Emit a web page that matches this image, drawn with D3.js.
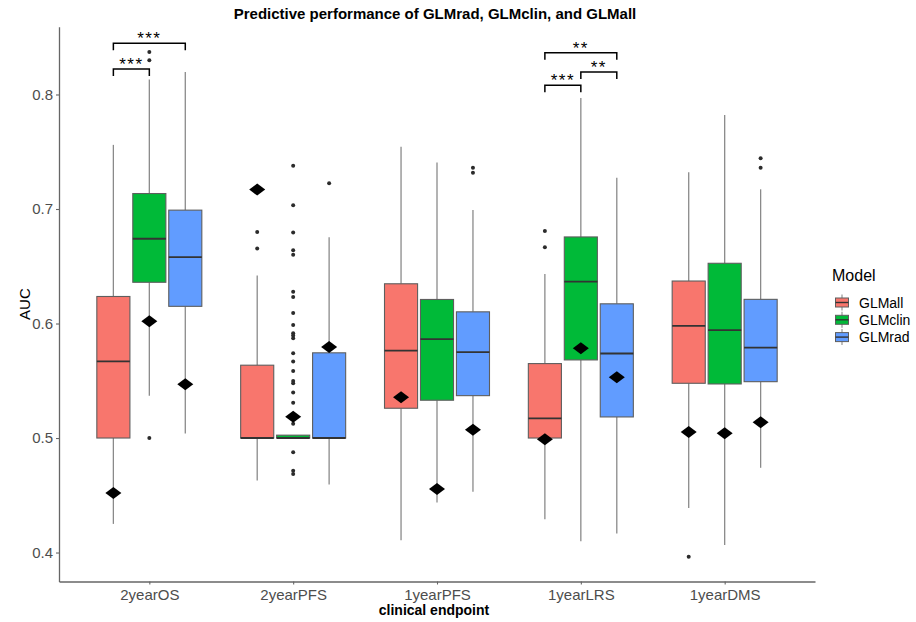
<!DOCTYPE html>
<html>
<head>
<meta charset="utf-8">
<script src="https://cdn.jsdelivr.net/npm/d3@7"></script>
<style>
  body { margin: 0; background: #fff; }
  svg { display: block; font-family: "Liberation Sans", Arial, sans-serif; }
</style>
</head>
<body>
<svg id="chart" width="916" height="622"></svg>
<script>
// ---- data ---------------------------------------------------------------
const endpoints = ["2yearOS", "2yearPFS", "1yearPFS", "1yearLRS", "1yearDMS"];
const models = ["GLMall", "GLMclin", "GLMrad"];
const modelColors = ["#F8766D", "#00BA38", "#619CFF"];
const yTicks = [0.4, 0.5, 0.6, 0.7, 0.8];

// box summaries per endpoint: [lower whisker, Q1, median, Q3, upper whisker]
const allBoxes = [
  [0.425, 0.500, 0.567, 0.6236, 0.756],
  [0.463, 0.500, 0.500, 0.5636, 0.642],
  [0.4108, 0.526, 0.5764, 0.6347, 0.7543],
  [0.4291, 0.500, 0.5172, 0.565, 0.6432],
  [0.4389, 0.5478, 0.598, 0.6371, 0.732]
];
const clinBoxes = [
  [0.537, 0.636, 0.674, 0.7135, 0.813],
  [0.500, 0.500, 0.500, 0.5025, 0.5025],
  [0.4437, 0.533, 0.5863, 0.621, 0.7406],
  [0.4099, 0.5682, 0.6365, 0.6756, 0.7969],
  [0.4066, 0.5472, 0.5943, 0.6526, 0.7821]
];
const radBoxes = [
  [0.504, 0.615, 0.658, 0.699, 0.8196],
  [0.4595, 0.500, 0.500, 0.5744, 0.6753],
  [0.453, 0.537, 0.575, 0.6102, 0.6992],
  [0.4167, 0.5184, 0.5738, 0.6172, 0.7272],
  [0.474, 0.5492, 0.5789, 0.6211, 0.7172]
];

// mean AUC per endpoint
const allMeans = [0.452, 0.717, 0.5356, 0.4989, 0.5052];
const clinMeans = [0.602, 0.5186, 0.4554, 0.5785, 0.5041];
const radMeans = [0.547, 0.5794, 0.5073, 0.5531, 0.5137];

// outlying AUC values per endpoint
const allOutliers = [[], [0.680, 0.6656], [], [0.6808, 0.6665], [0.3963]];
const clinOutliers = [
  [0.837, 0.830, 0.500],
  [0.7377, 0.7033, 0.6794, 0.6639, 0.6601, 0.6277, 0.6231, 0.6091, 0.5986,
   0.5916, 0.5895, 0.5872, 0.5741, 0.5668, 0.5586, 0.5499, 0.5479, 0.5397,
   0.5309, 0.5125, 0.4875, 0.4714, 0.4685],
  [], [], []
];
const radOutliers = [[], [0.7225], [0.736, 0.7316], [], [0.7443, 0.7361]];

// significance brackets
const bracketEndpoint = ["2yearOS", "2yearOS", "1yearLRS", "1yearLRS", "1yearLRS"];
const bracketFrom = ["GLMall", "GLMall", "GLMall", "GLMclin", "GLMall"];
const bracketTo = ["GLMclin", "GLMrad", "GLMclin", "GLMrad", "GLMrad"];
const bracketY = [0.8223, 0.8447, 0.808, 0.8197, 0.8365];
const bracketLabel = ["***", "***", "***", "**", "**"];

// ---- layout -------------------------------------------------------------
const svg = d3.select("#chart");
const panel = { left: 59, right: 815, top: 26.7, bottom: 581.5 };

const x = d3.scalePoint().domain(endpoints)
  .range([panel.left, panel.right]).padding(0.628);
const step = x.step();
const dodge = d3.scaleBand().domain(models)
  .range([-0.375 * step, 0.375 * step]);
const boxW = dodge.bandwidth() * 0.92;
const subX = (ep, m) => x(ep) + dodge(m) + dodge.bandwidth() / 2;

const y = d3.scaleLinear().domain([0.3747, 0.8592]).range([panel.bottom, panel.top]);
const color = d3.scaleOrdinal().domain(models).range(modelColors);

const boxes = [allBoxes, clinBoxes, radBoxes];
const means = [allMeans, clinMeans, radMeans];
const outliers = [allOutliers, clinOutliers, radOutliers];

const rows = [];
models.forEach((m, mi) => {
  endpoints.forEach((ep, ei) => {
    const b = boxes[mi][ei];
    rows.push({ model: m, endpoint: ep, lo: b[0], q1: b[1], med: b[2], q3: b[3], hi: b[4],
                mean: means[mi][ei], out: outliers[mi][ei] });
  });
});

// ---- title --------------------------------------------------------------
svg.append("text")
  .attr("x", 435).attr("y", 19)
  .attr("text-anchor", "middle")
  .attr("font-size", 15).attr("font-weight", "bold").attr("fill", "#000")
  .text("Predictive performance of GLMrad, GLMclin, and GLMall");

// ---- boxes --------------------------------------------------------------
const g = svg.append("g");
const item = g.selectAll("g.box").data(rows).join("g").attr("class", "box");

item.append("line")
  .attr("x1", d => subX(d.endpoint, d.model)).attr("x2", d => subX(d.endpoint, d.model))
  .attr("y1", d => y(d.hi)).attr("y2", d => y(d.q3))
  .attr("stroke", "#8a8a8a").attr("stroke-width", 1.3);
item.append("line")
  .attr("x1", d => subX(d.endpoint, d.model)).attr("x2", d => subX(d.endpoint, d.model))
  .attr("y1", d => y(d.q1)).attr("y2", d => y(d.lo))
  .attr("stroke", "#8a8a8a").attr("stroke-width", 1.3);

item.append("rect")
  .attr("x", d => subX(d.endpoint, d.model) - boxW / 2)
  .attr("width", boxW)
  .attr("y", d => y(d.q3))
  .attr("height", d => Math.max(y(d.q1) - y(d.q3), 0))
  .attr("fill", d => color(d.model))
  .attr("stroke", "#5e5e5e").attr("stroke-width", 1.1);

item.append("line")
  .attr("x1", d => subX(d.endpoint, d.model) - boxW / 2)
  .attr("x2", d => subX(d.endpoint, d.model) + boxW / 2)
  .attr("y1", d => y(d.med)).attr("y2", d => y(d.med))
  .attr("stroke", "#333").attr("stroke-width", 1.8);

item.selectAll("circle")
  .data(d => d.out.map(v => ({ v, cx: subX(d.endpoint, d.model) })))
  .join("circle")
  .attr("cx", o => o.cx).attr("cy", o => y(o.v)).attr("r", 2)
  .attr("fill", "#2b2b2b");

// mean markers
g.selectAll("path.mean").data(rows).join("path")
  .attr("class", "mean")
  .attr("d", d => {
    const cx = subX(d.endpoint, d.model), cy = y(d.mean);
    return `M${cx - 8},${cy}L${cx},${cy - 6}L${cx + 8},${cy}L${cx},${cy + 6}Z`;
  })
  .attr("fill", "#000");

// ---- significance brackets ---------------------------------------------
const br = svg.append("g");
bracketLabel.forEach((lab, i) => {
  const x1 = subX(bracketEndpoint[i], bracketFrom[i]);
  const x2 = subX(bracketEndpoint[i], bracketTo[i]);
  const yy = y(bracketY[i]);
  br.append("path")
    .attr("d", `M${x1},${yy + 7}V${yy}H${x2}V${yy + 7}`)
    .attr("fill", "none").attr("stroke", "#000").attr("stroke-width", 1.5);
  br.append("text")
    .attr("x", (x1 + x2) / 2).attr("y", yy + 1)
    .attr("text-anchor", "middle").attr("font-size", 17)
    .attr("letter-spacing", 1.5).attr("fill", "#000")
    .text(lab);
});

// ---- axes ---------------------------------------------------------------
const axisColor = "#666";
const yAxis = svg.append("g").attr("transform", `translate(${panel.left},0)`)
  .call(d3.axisLeft(y).tickValues(yTicks).tickFormat(d3.format(".1f"))
    .tickSize(3).tickSizeOuter(0).tickPadding(3));
const xAxis = svg.append("g").attr("transform", `translate(0,${panel.bottom})`)
  .call(d3.axisBottom(x).tickSize(3).tickSizeOuter(0).tickPadding(5));
[yAxis, xAxis].forEach(a => {
  a.select(".domain").attr("stroke", axisColor).attr("stroke-width", 1.3);
  a.selectAll(".tick line").attr("stroke", axisColor).attr("stroke-width", 1.1);
  a.selectAll(".tick text").attr("fill", "#4d4d4d").attr("font-size", 15)
    .attr("font-family", "Liberation Sans, Arial, sans-serif");
});

svg.append("text")
  .attr("transform", `translate(24,${(panel.top + panel.bottom) / 2}) rotate(-90)`)
  .attr("text-anchor", "middle").attr("dominant-baseline", "central")
  .attr("font-size", 15).attr("fill", "#000").text("AUC");
svg.append("text")
  .attr("x", (panel.left + panel.right) / 2 - 3).attr("y", 615)
  .attr("text-anchor", "middle").attr("font-size", 14).attr("font-weight", "bold")
  .attr("fill", "#000")
  .text("clinical endpoint");

// ---- legend -------------------------------------------------------------
const leg = svg.append("g").attr("transform", "translate(832,0)");
leg.append("text").attr("x", 0).attr("y", 281)
  .attr("font-size", 16).attr("fill", "#000").text("Model");
models.forEach((m, i) => {
  const cy = 302.5 + i * 17.3;
  const kx = 10;
  leg.append("line").attr("x1", kx).attr("x2", kx).attr("y1", cy - 8).attr("y2", cy + 8)
    .attr("stroke", "#8a8a8a").attr("stroke-width", 1.1);
  leg.append("rect").attr("x", kx - 6.5).attr("y", cy - 4.5).attr("width", 13).attr("height", 9)
    .attr("fill", color(m)).attr("stroke", "#5e5e5e").attr("stroke-width", 1);
  leg.append("line").attr("x1", kx - 6.5).attr("x2", kx + 6.5).attr("y1", cy).attr("y2", cy)
    .attr("stroke", "#333").attr("stroke-width", 1.4);
  leg.append("text").attr("x", 27).attr("y", cy).attr("dominant-baseline", "central")
    .attr("font-size", 14).attr("fill", "#000").text(m);
});
</script>
</body>
</html>
